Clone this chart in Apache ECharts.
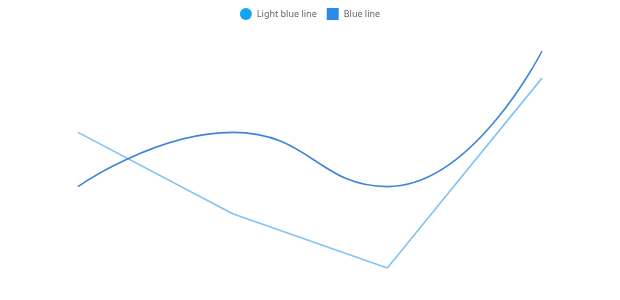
<!DOCTYPE html>
<html><head><meta charset="utf-8">
<script src="https://cdn.jsdelivr.net/npm/echarts@6/dist/echarts.min.js"></script>
<style>html,body{margin:0;padding:0;background:#fff}#c{width:620px;height:300px}</style>
</head><body><div id="c"></div>
<script>
const categories = ['A', 'B', 'C', 'D'];
const lightBlueValues = [5, 2, 0, 7];
const blueValues = [3, 5, 3, 8];
const seriesNames = ['Light blue line', 'Blue line'];

const chart = echarts.init(document.getElementById('c'), null, {renderer: 'canvas'});
chart.setOption({
  animation: false,
  legend: {
    top: 3, left: 'center', itemWidth: 12, itemHeight: 12, itemGap: 10,
    textStyle: {color: '#666', fontSize: 9, fontFamily: 'Noto Sans'},
    data: [{name: seriesNames[0], icon: 'circle'}, {name: seriesNames[1], icon: 'rect'}]
  },
  grid: {left: 78, right: 78, top: 51, bottom: 32},
  xAxis: {type: 'category', data: categories, boundaryGap: false, show: false},
  yAxis: {type: 'value', min: 0, max: 8, show: false},
  series: [
    {name: seriesNames[0], type: 'line', data: lightBlueValues, showSymbol: false,
     itemStyle: {color: '#12a4f4'}, lineStyle: {color: '#80c3f5', width: 1.6}},
    {name: seriesNames[1], type: 'line', data: blueValues, smooth: true, showSymbol: false,
     itemStyle: {color: '#2a8ae6'}, lineStyle: {color: '#3f86d8', width: 1.6}}
  ]
});
</script></body></html>
